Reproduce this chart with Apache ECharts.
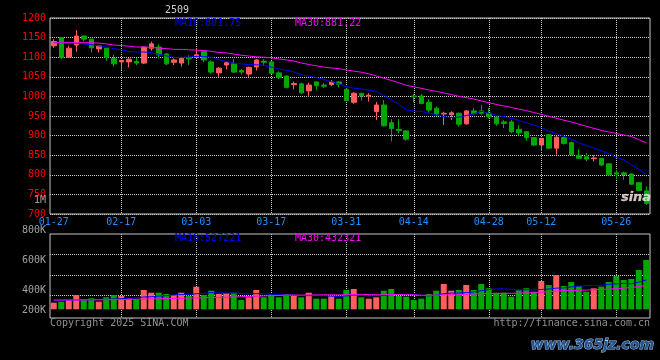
<!DOCTYPE html>
<html><head><meta charset="utf-8">
<script src="https://cdn.jsdelivr.net/npm/echarts@6/dist/echarts.min.js"></script>
<style>html,body{margin:0;padding:0;background:#000}#c{width:660px;height:360px}</style>
</head><body><div id="c"></div>
<script>
const dates = ['01-27','02-05','02-06','02-07','02-10','02-11','02-12','02-13','02-14','02-17',
'02-18','02-19','02-20','02-21','02-24','02-25','02-26','02-27','02-28','03-03',
'03-04','03-05','03-06','03-07','03-10','03-11','03-12','03-13','03-14','03-17',
'03-18','03-19','03-20','03-21','03-24','03-25','03-26','03-27','03-28','03-31',
'04-01','04-02','04-03','04-07','04-08','04-09','04-10','04-11','04-14','04-15',
'04-16','04-17','04-18','04-21','04-22','04-23','04-24','04-25','04-28','04-29',
'04-30','05-06','05-07','05-08','05-09','05-12','05-13','05-14','05-15','05-16',
'05-19','05-20','05-21','05-22','05-23','05-26','05-27','05-28','05-29','05-30'];
const tickLabels = ['01-27','02-17','03-03','03-17','03-31','04-14','04-28','05-12','05-26'];
const open = [1129,1150,1100,1131,1154,1146,1121,1123,1096,1088,
1088,1089,1085,1123,1126,1108,1087,1085,1099,1099,
1114,1088,1060,1080,1083,1066,1057,1075,1090,1088,
1060,1052,1030,1032,1014,1037,1029,1030,1037,1018,
985,1008,1001,961,978,933,916,912,1001,1001,
985,970,955,953,957,930,963,963,957,947,
935,935,916,910,895,876,902,868,895,882,
850,846,841,842,828,805,805,802,780,759];
const close = [1140,1099,1123,1154,1146,1124,1129,1100,1083,1092,
1095,1085,1126,1134,1106,1083,1093,1097,1096,1106,
1093,1062,1072,1086,1062,1062,1074,1093,1087,1059,
1048,1023,1033,1009,1029,1027,1026,1037,1031,989,
1008,1001,1003,978,925,918,913,891,999,982,
965,955,957,958,929,963,956,957,948,930,
931,910,907,895,876,893,868,896,880,851,
842,840,843,825,800,802,801,776,760,727];
const high = [1146,1151,1129,1169,1155,1147,1131,1124,1106,1093,
1097,1098,1127,1140,1133,1110,1097,1101,1105,1123,
1115,1092,1075,1089,1095,1070,1076,1095,1095,1090,
1064,1054,1038,1035,1035,1038,1034,1042,1038,1020,
1011,1009,1008,986,991,942,942,914,1007,1006,
993,974,961,962,959,965,970,978,970,948,
940,940,927,911,896,894,904,898,897,885,
865,855,850,843,830,812,808,804,781,770];
const low = [1124,1095,1099,1114,1140,1112,1112,1091,1076,1068,
1074,1080,1083,1117,1097,1080,1080,1076,1080,1097,
1087,1058,1050,1069,1060,1056,1050,1066,1078,1057,
1044,1020,1018,1006,999,1016,1022,1026,1023,988,
981,989,987,940,923,885,906,887,984,980,
958,950,927,940,923,928,953,953,944,925,
919,906,901,887,873,861,865,851,877,849,
840,835,834,822,799,789,787,775,758,723];
const ma10 = [1137,1137,1137,1136,1134,1132,1129,1126,1122,1119.0,
1114.5,1113.1,1113.4,1111.4,1107.4,1103.3,1099.7,1099.4,1100.7,1102.1,
1101.9,1099.6,1094.2,1089.4,1085.0,1082.9,1081.0,1080.6,1079.7,1075.0,
1070.5,1066.6,1062.7,1055.0,1051.7,1048.2,1043.4,1037.8,1032.2,1025.2,
1021.2,1019.0,1016.0,1012.9,1002.5,991.6,980.3,965.7,962.5,961.8,
957.5,952.9,948.3,946.3,946.7,951.2,955.5,962.1,957.0,951.8,
948.4,943.9,938.9,932.6,927.3,920.3,911.5,905.4,898.6,890.7,
881.8,874.8,868.4,861.4,853.8,844.7,838.0,826.0,814.0,801.6];
const ma30 = [1137,1137,1137,1137,1137,1137,1136,1134,1131,1130,
1128,1126,1126,1125,1123,1122,1120,1120,1119,1118,
1117,1115,1112,1111,1108,1105,1103,1101,1100,1098.7,
1095.6,1093.1,1090.1,1085.3,1081.4,1078.1,1074.7,1072.6,1070.9,1067.4,
1064.5,1061.7,1057.6,1052.4,1046.4,1040.9,1034.9,1028.0,1024.8,1020.7,
1016.4,1012.8,1009.0,1004.7,1000.3,997.0,993.1,988.5,983.9,979.6,
975.7,971.9,967.7,963.9,958.8,954.4,949.1,944.4,939.4,934.8,
929.2,923.9,918.5,913.4,909.3,905.4,901.7,897.8,889.9,881.4];
// volume in thousands (K)
const volume = [119,137,167,257,185,198,137,216,257,239,
203,180,347,299,299,275,257,299,239,407,
257,335,275,288,299,167,216,347,216,275,
216,275,239,216,299,191,191,239,191,347,
365,216,191,216,335,365,239,227,167,191,
275,335,455,335,347,437,347,455,378,299,
299,227,347,378,317,509,437,617,419,491,
419,317,378,407,491,599,527,545,707,887];
const volMa10 = [165,165,166,168,170,172,175,180,186,191.2,
199.6,203.9,221.9,226.1,237.5,245.2,257.2,265.5,263.7,280.5,
285.9,301.4,294.2,293.1,293.1,282.3,278.2,283.0,280.7,267.5,
263.4,257.4,253.8,246.6,246.6,249.0,246.5,235.7,233.2,240.4,
255.3,249.4,244.6,244.6,248.2,265.6,270.4,269.2,266.8,251.2,
242.2,254.1,280.5,292.4,293.6,300.8,311.6,334.4,355.5,366.3,
368.7,357.9,347.1,351.4,348.4,355.6,364.6,380.8,384.9,404.1,
416.1,425.1,428.2,431.1,448.5,457.5,466.5,459.3,488.1,527.7];
const volMa30 = [167,167,168,168,169,170,171,172,174,176,
178,181,184,187,190,193,196,199,202,205,
208,211,214,218,222,226,231,236,241,246.4,
249.6,254.2,256.6,255.3,259.1,258.8,260.6,261.4,259.2,262.8,
268.2,269.4,264.2,261.4,262.6,265.6,265.0,262.6,260.2,253.0,
253.6,253.6,259.6,261.2,262.8,271.8,276.2,279.8,285.2,286.0,
288.7,287.1,290.7,296.1,296.7,307.3,315.5,328.1,335.7,340.5,
342.3,345.7,351.9,358.3,363.5,371.3,380.9,391.5,409.5,432.7];
const priceTicks = [700, 1200, 50];
const volLabels = ['800K','600K','400K','200K'];

const chart = echarts.init(document.getElementById('c'), null, {renderer: 'canvas'});
const MONO = '"DejaVu Sans Mono", "Liberation Mono", monospace';
const UP = '#FF5E5E', DOWN = '#00A800';
const GRID = '#C8C8C8';
const candleData = dates.map((d, i) => [open[i], close[i], low[i], high[i]]);
const volData = dates.map((d, i) => ({value: volume[i], itemStyle: {color: close[i] >= open[i] ? UP : DOWN}}));
const isTick = (i, v) => tickLabels.indexOf(v) >= 0;
const isGrid = (i, v) => i > 0 && tickLabels.indexOf(v) >= 0;
const dotted = {color: GRID, type: [1, 1], width: 1};

function txt(text, x, y, fill, align, font) {
  return {type: 'text', z: 100, style: {text: text, x: x, y: y, fill: fill, align: align || 'left', textAlign: align || 'left',
    verticalAlign: 'middle', textVerticalAlign: 'middle', font: font || ('10px ' + MONO)}};
}
const volLabelY = [230.5, 260.7, 290.3, 310];

const option = {
  backgroundColor: '#000',
  animation: false,
  grid: [
    {left: 50, top: 18, width: 600, height: 196, show: true, borderColor: GRID, borderWidth: 1},
    {left: 50, top: 234, width: 600, height: 84, show: true, borderColor: GRID, borderWidth: 1},
    {left: 50, top: 254.5, width: 600, height: 40.6, show: false}
  ],
  xAxis: [
    {type: 'category', gridIndex: 0, data: dates, boundaryGap: true,
     axisLine: {show: false}, axisTick: {show: false},
     axisLabel: {interval: isTick, color: '#1E90FF', fontFamily: MONO, fontSize: 10, margin: 3},
     splitLine: {show: true, interval: isGrid, alignWithLabel: true, lineStyle: dotted}},
    {type: 'category', gridIndex: 1, data: dates, boundaryGap: true,
     axisLine: {show: false}, axisTick: {show: false}, axisLabel: {show: false},
     splitLine: {show: true, interval: isGrid, alignWithLabel: true, lineStyle: dotted}},
    {type: 'value', gridIndex: 2, show: false, min: 0, max: 1}
  ],
  yAxis: [
    {type: 'value', gridIndex: 0, min: priceTicks[0], max: priceTicks[1], interval: priceTicks[2],
     axisLine: {show: false}, axisTick: {show: false},
     axisLabel: {color: '#FF0000', fontFamily: MONO, fontSize: 10, margin: 4, formatter: v => String(v)},
     splitLine: {show: true, lineStyle: dotted}},
    {type: 'value', gridIndex: 1, min: -156.6, max: 1355.4, show: false},
    {type: 'value', gridIndex: 2, min: 0, max: 2, interval: 1,
     axisLine: {show: false}, axisTick: {show: false}, axisLabel: {show: false},
     splitLine: {show: true, lineStyle: dotted}}
  ],
  series: [
    {type: 'candlestick', xAxisIndex: 0, yAxisIndex: 0, data: candleData, barWidth: 5,
     itemStyle: {color: UP, color0: DOWN, borderColor: UP, borderColor0: DOWN, borderWidth: 1}},
    {type: 'line', xAxisIndex: 0, yAxisIndex: 0, data: ma10, symbol: 'none', lineStyle: {color: '#0000FF', width: 1}, itemStyle: {color: '#0000FF'}},
    {type: 'line', xAxisIndex: 0, yAxisIndex: 0, data: ma30, symbol: 'none', lineStyle: {color: '#FF00FF', width: 1}, itemStyle: {color: '#FF00FF'}},
    {type: 'bar', xAxisIndex: 1, yAxisIndex: 1, data: volData, barWidth: 6},
    {type: 'line', xAxisIndex: 1, yAxisIndex: 1, data: volMa10, symbol: 'none', lineStyle: {color: '#0000FF', width: 1}, itemStyle: {color: '#0000FF'}},
    {type: 'line', xAxisIndex: 1, yAxisIndex: 1, data: volMa30, symbol: 'none', lineStyle: {color: '#FF00FF', width: 1}, itemStyle: {color: '#FF00FF'}}
  ],
  graphic: [
    txt('2509', 165, 10, '#D0D0D0'),
    txt('MA10:801.75', 175, 23.5, '#0000FF'),
    txt('MA30:881.22', 295, 23.5, '#FF00FF'),
    txt('MA10:527221', 175, 238.5, '#0000FF'),
    txt('MA30:432321', 295, 238.5, '#FF00FF'),
    txt('1M', 46, 200, '#A0A0A0', 'right'),
    txt(volLabels[0], 46, volLabelY[0], '#A0A0A0', 'right'),
    txt(volLabels[1], 46, volLabelY[1], '#A0A0A0', 'right'),
    txt(volLabels[2], 46, volLabelY[2], '#A0A0A0', 'right'),
    txt(volLabels[3], 46, volLabelY[3], '#A0A0A0', 'right'),
    txt('Copyright 2025 SINA.COM', 50, 323, '#909090'),
    txt('http://finance.sina.com.cn', 650, 323, '#909090', 'right'),
    {type: 'text', z: 100, style: {text: 'sina', x: 636, y: 198, fill: 'rgba(235,235,235,0.85)', stroke: 'rgba(255,140,140,0.6)', lineWidth: 0.5,
      align: 'center', textAlign: 'center', verticalAlign: 'middle', textVerticalAlign: 'middle', font: 'italic bold 13px "DejaVu Sans"'}},
    {type: 'text', z: 100, style: {text: 'www.365jz.com', x: 654, y: 345, fill: '#1F5592', stroke: '#A9C4E4', lineWidth: 1,
      align: 'right', textAlign: 'right', verticalAlign: 'middle', textVerticalAlign: 'middle', font: 'italic bold 14px "DejaVu Sans"'}}
  ]
};
chart.setOption(option);
</script>
</body></html>
